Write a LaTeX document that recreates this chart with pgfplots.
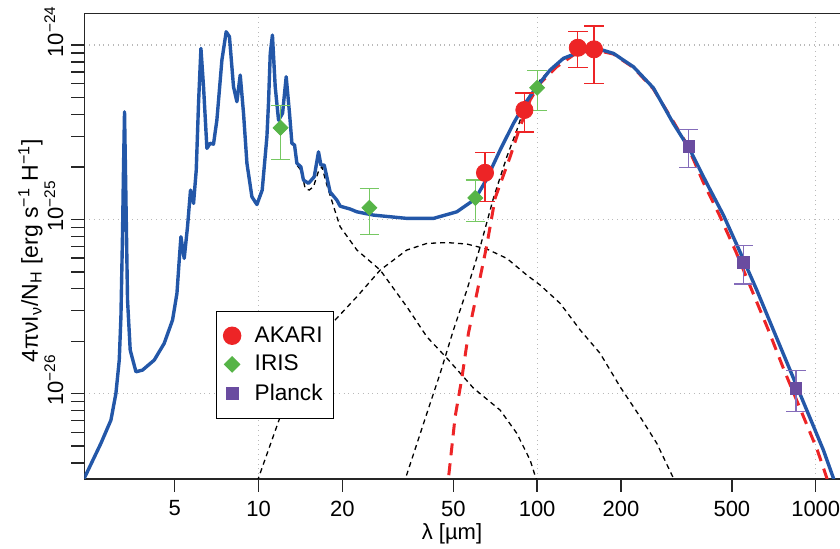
\documentclass[border=0pt]{standalone}
\usepackage{fontspec}
\setmainfont{Liberation Sans}
\usepackage{pgfplots}
\pgfplotsset{compat=1.18}
\definecolor{blueline}{RGB}{35,87,168}
\definecolor{akred}{RGB}{237,36,38}
\definecolor{irisg}{RGB}{86,180,71}
\definecolor{irisbar}{RGB}{118,200,98}
\definecolor{planckp}{RGB}{106,76,160}
\definecolor{planckbar}{RGB}{132,108,186}
\begin{document}
\begin{tikzpicture}
\begin{axis}[
  scale only axis, width=377.85pt, height=232.6pt,
  xmode=log, ymode=log,
  xmin=2.37, xmax=1222, ymin=3.25e-27, ymax=1.516e-24,
  axis x line=box, axis y line=left,
  x axis line style={-}, y axis line style={-},
  axis line style={line width=0.75pt, black!85},
  tick style={line width=0.7pt, black!85},
  tick align=outside, tick pos=left,
  major tick length=6.5pt, minor tick length=6.5pt,
  xtick={10,100,1000}, xticklabels={10,100,1000},
  extra x ticks={5,20,50,200,500}, extra x tick labels={5,20,50,200,500},
  extra tick style={grid=none},
  xminorticks=false,
  ytick={1e-26,1e-25,1e-24},
  yticklabels={10\rlap{\textsuperscript{−26}},10\rlap{\textsuperscript{−25}},10\rlap{\textsuperscript{−24}}},
  minor ytick={4e-27,5e-27,6e-27,7e-27,8e-27,9e-27,2e-26,3e-26,4e-26,5e-26,6e-26,7e-26,8e-26,9e-26,2e-25,3e-25,4e-25,5e-25,6e-25,7e-25,8e-25,9e-25},
  grid=major, major grid style={dotted, line width=0.6pt, gray!55},
  ticklabel style={font=\fontsize{11}{13}\selectfont},
  yticklabel style={rotate=90, anchor=south, font=\fontsize{11}{13}\selectfont},
  yticklabel shift=0.5pt,
  xticklabel shift=1pt,
  xlabel={λ [µm]},
  xlabel style={at={(axis description cs:0.4866,-0.1305)}, anchor=base, font=\fontsize{11}{13}\selectfont},
  ylabel={4πνI\textsubscript{ν}/N\textsubscript{H} [erg s\textsuperscript{−1} H\textsuperscript{−1}]},
  ylabel style={at={(axis description cs:-0.0613,0.49)}, anchor=base, font=\fontsize{11.5}{13}\selectfont},
  legend style={at={(rel axis cs:0.1742,0.3609)}, anchor=north west, draw=black, line width=0.6pt, fill=white, font=\fontsize{11.3}{13}\selectfont, inner xsep=3.5pt, inner ysep=5.5pt, row sep=1pt, column sep=5pt},
  legend cell align=left,
]
% PAH component
\addplot[black, line width=0.65pt, dash pattern=on 2.5pt off 2pt, forget plot] table {
12.92 4.06e-25
13.18 2.70e-25
13.47 2.60e-25
13.73 2.05e-25
14.19 1.918e-25
14.71 1.506e-25
15.20 1.473e-25
15.75 1.538e-25
16.38 1.868e-25
16.89 2.003e-25
17.60 1.573e-25
19.11 1.035e-25
19.64 9.07e-26
22.55 6.67e-26
27.34 5.12e-26
34.08 3.15e-26
40.20 2.12e-26
47.42 1.60e-26
59.09 1.076e-26
73.66 8.05e-27
84.57 5.92e-27
94.38 4.16e-27
100.8 2.99e-27
};
% VSG component
\addplot[black, line width=0.65pt, dash pattern=on 2.5pt off 2pt, forget plot] table {
9.651 2.80e-27
11.96 7.37e-27
14.83 1.402e-26
18.58 2.585e-26
22.55 3.60e-26
27.34 5.12e-26
34.08 6.67e-26
40.20 7.28e-26
47.42 7.36e-26
55.94 7.22e-26
66.0 6.76e-26
77.89 5.97e-26
91.83 4.79e-26
102.5 4.20e-26
120.9 3.30e-26
142.7 2.32e-26
168.3 1.703e-26
198.6 1.095e-26
234.2 7.37e-27
268.9 5.19e-27
308.3 3.28e-27
317.9 2.80e-27
};
% BG component
\addplot[black, line width=0.65pt, dash pattern=on 2.5pt off 2pt, forget plot] table {
33.19 3.03e-27
40.20 7.71e-27
44.87 1.307e-26
50.08 2.32e-26
55.94 3.93e-26
62.44 6.94e-26
69.70 1.325e-25
77.89 2.29e-25
84.57 3.25e-25
91.83 4.84e-25
102.5 6.30e-25
114.4 7.51e-25
131.3 8.76e-25
159.2 9.42e-25
187.8 8.88e-25
};
% red dashed fit
\addplot[akred, line width=1.5pt, dash pattern=on 6pt off 4pt, forget plot] table {
47.34 2.62e-27
50.78 7.37e-27
53.67 1.224e-26
56.68 2.22e-26
60.76 3.76e-26
66.0 7.12e-26
70.69 1.325e-25
80.04 2.29e-25
86.90 3.40e-25
94.38 4.84e-25
102.5 6.03e-25
117.7 7.51e-25
134.9 8.76e-25
159.2 9.42e-25
187.8 8.88e-25
221.6 7.43e-25
261.5 5.59e-25
300.0 3.91e-25
344.5 2.70e-25
396.3 1.61e-25
451.0 1.058e-25
517.6 6.49e-26
589.5 3.93e-26
676.0 2.32e-26
769.8 1.366e-26
883.5 8.05e-27
1013 4.75e-27
1096 3.28e-27
1139 2.72e-27
};
% total model
\addplot[blueline, line width=1.7pt, line join=round, forget plot] table {
2.330 3.11e-27
2.379 3.32e-27
2.719 5.19e-27
2.954 7.06e-27
3.078 1.004e-26
3.164 1.559e-26
3.208 2.762e-26
3.251 8.34e-26
3.278 2.003e-25
3.305 4.14e-25
3.344 1.29e-25
3.388 3.44e-26
3.464 1.78e-26
3.632 1.335e-26
3.836 1.366e-26
4.225 1.559e-26
4.587 1.944e-26
4.914 2.644e-26
5.096 3.76e-26
5.194 5.84e-26
5.267 7.95e-26
5.412 5.97e-26
5.562 9.07e-26
5.702 1.473e-25
5.846 1.235e-25
5.978 1.918e-25
6.092 4.63e-25
6.214 9.57e-25
6.349 5.77e-25
6.529 2.555e-25
6.709 2.73e-25
6.894 2.70e-25
7.090 3.71e-25
7.390 8.20e-25
7.657 1.192e-24
7.868 1.116e-24
8.133 5.77e-25
8.365 4.73e-25
8.598 6.73e-25
8.836 4.06e-25
9.087 2.10e-25
9.469 1.348e-25
9.869 1.216e-25
10.31 1.473e-25
10.72 2.98e-25
10.86 4.63e-25
11.02 8.96e-25
11.22 1.141e-24
11.48 5.77e-25
11.80 3.71e-25
12.20 4.06e-25
12.57 6.58e-25
12.92 4.06e-25
13.18 2.73e-25
13.47 2.67e-25
13.73 2.10e-25
14.19 2.003e-25
14.50 1.68e-25
15.12 1.61e-25
15.85 1.755e-25
16.42 2.44e-25
16.75 2.05e-25
17.21 2.05e-25
17.69 1.68e-25
18.08 1.434e-25
19.11 1.29e-25
19.64 1.19e-25
21.33 1.146e-25
22.55 1.105e-25
25.86 1.058e-25
34.08 1.013e-25
42.46 1.013e-25
51.50 1.105e-25
59.91 1.307e-25
65.61 1.68e-25
73.66 2.50e-25
82.22 3.55e-25
90.56 4.63e-25
99.75 5.77e-25
111.3 7.19e-25
124.3 8.39e-25
142.7 9.15e-25
163.8 9.57e-25
187.8 8.96e-25
221.6 7.51e-25
261.5 5.67e-25
308.3 3.55e-25
354.0 2.50e-25
406.3 1.61e-25
466.2 1.058e-25
535.2 6.49e-26
614.3 3.93e-26
704.5 2.32e-26
808.8 1.366e-26
928.4 8.05e-27
1065 4.75e-27
1157 3.28e-27
1202 2.72e-27
};
% AKARI
\addplot[only marks, mark=*, mark size=4.3pt, color=akred, mark options={fill=akred, draw=akred},
  error bars/.cd, y dir=both, y explicit,
  error bar style={line width=0.6pt, color=akred},
  error mark options={rotate=90, mark size=4.85pt, line width=0.6pt, color=akred}]
coordinates {
(65,1.85e-25) +- (0,0.58e-25)
(90,4.24e-25) +- (0,1.07e-25)
(140,9.65e-25) +- (0,2.25e-25)
(160,9.45e-25) +- (0,3.41e-25)
};
\addlegendentry{AKARI}
% IRIS
\addplot[only marks, mark=square*, mark size=2.65pt, color=irisg, mark options={rotate=45, fill=irisg, draw=irisg},
  error bars/.cd, y dir=both, y explicit,
  error bar style={line width=0.6pt, color=irisbar},
  error mark options={rotate=90, mark size=4.85pt, line width=0.6pt, color=irisbar}]
coordinates {
(12,3.35e-25) +- (0,1.15e-25)
(25,1.166e-25) +- (0,0.344e-25)
(60,1.328e-25) +- (0,0.355e-25)
(100,5.69e-25) +- (0,1.46e-25)
};
\addlegendentry{IRIS}
% Planck
\addplot[only marks, mark=square*, mark size=2.9pt, color=planckp, mark options={fill=planckp, draw=planckp},
  error bars/.cd, y dir=both, y explicit,
  error bar style={line width=0.6pt, color=planckbar},
  error mark options={rotate=90, mark size=4.85pt, line width=0.6pt, color=planckbar}]
coordinates {
(350,2.63e-25) +- (0,0.65e-25)
(550,5.67e-26) +- (0,1.41e-26)
(850,1.073e-26) +- (0,0.286e-26)
};
\addlegendentry{Planck}
\end{axis}
\pgfresetboundingbox
\path[use as bounding box] (-42.15pt,-34.65pt) rectangle (377.85pt,239.35pt);
\end{tikzpicture}
\end{document}
